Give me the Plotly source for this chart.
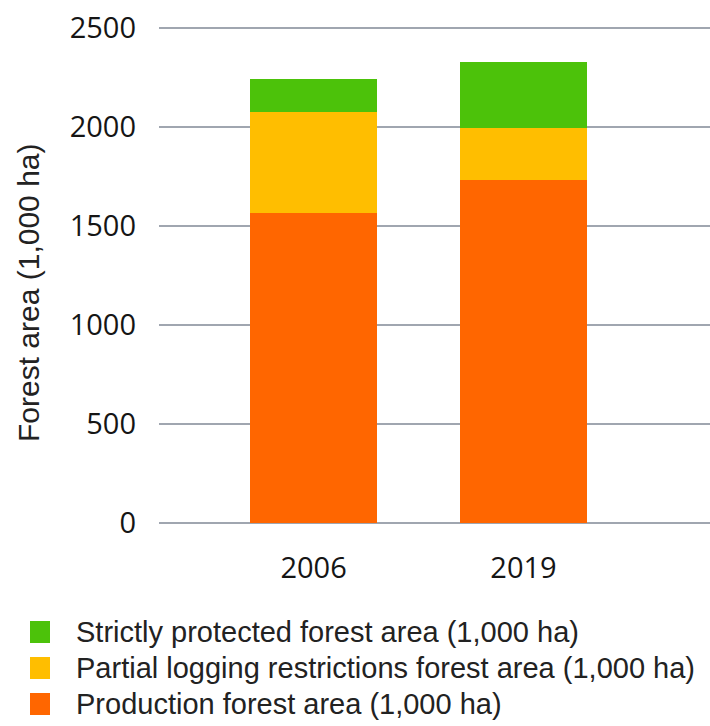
import plotly.graph_objects as go

# ---- data ----
categories = ["2006", "2019"]
series_names = [
    "Production forest area (1,000 ha)",
    "Partial logging restrictions forest area (1,000 ha)",
    "Strictly protected forest area (1,000 ha)",
]
production = [1564, 1732]
partial = [510, 263]
strict = [168, 335]
series_values = [production, partial, strict]
series_colors = ["#FF6600", "#FFBE00", "#4CC20A"]
y_ticks = [0, 500, 1000, 1500, 2000, 2500]

# ---- geometry (pixels) ----
W, H = 710, 726
ML, MR, MT, MB = 159, 0, 20, 196
PW = W - ML - MR
PH = H - MT - MB


def px_x(px):
    return (px - ML) / PW


def px_y(py):
    return (H - MB - py) / PH


fig = go.Figure()
for name, vals, col in zip(series_names, series_values, series_colors):
    fig.add_trace(go.Bar(
        x=categories, y=vals, name=name, marker=dict(color=col, line=dict(width=0)),
        width=0.605, showlegend=False,
    ))

fig.update_layout(
    width=W, height=H,
    margin=dict(l=ML, r=MR, t=MT, b=MB, pad=0),
    barmode="stack",
    plot_bgcolor="white", paper_bgcolor="white",
    showlegend=False,
    xaxis=dict(
        type="category", range=[-0.736, 1.888], showgrid=False, zeroline=False,
        showline=False, ticks="",
        tickfont=dict(family="Open Sans", size=29, color="#151515"),
        ticklabelstandoff=18,
    ),
    yaxis=dict(
        range=[-35, 2540], tickvals=y_ticks, ticktext=[str(v) for v in y_ticks],
        showgrid=True, gridcolor="#A0A6B0", gridwidth=2, zeroline=False,
        showline=False, ticks="",
        tickfont=dict(family="Open Sans", size=29, color="#151515"),
        ticklabelstandoff=22,
    ),
)

annotations = [
    dict(text="Forest area (1,000 ha)", textangle=-90, xref="paper", yref="paper",
         x=px_x(28), y=px_y(293), xanchor="center", yanchor="middle", showarrow=False,
         font=dict(family="Liberation Sans", size=30, color="#222222")),
]
shapes = []
legend_rows = [632, 668, 704]
for (name, col), cy in zip(list(zip(series_names, series_colors))[::-1], legend_rows):
    shapes.append(dict(type="rect", xref="paper", yref="paper",
                       x0=px_x(30), x1=px_x(50), y0=px_y(cy - 11), y1=px_y(cy + 11),
                       fillcolor=col, line=dict(width=0)))
    annotations.append(dict(text=name, xref="paper", yref="paper",
                            x=px_x(74), y=px_y(cy), xanchor="left", yanchor="middle",
                            showarrow=False,
                            font=dict(family="Liberation Sans", size=29, color="#222222")))

fig.update_layout(annotations=annotations, shapes=shapes)
fig.write_html("out.html")
